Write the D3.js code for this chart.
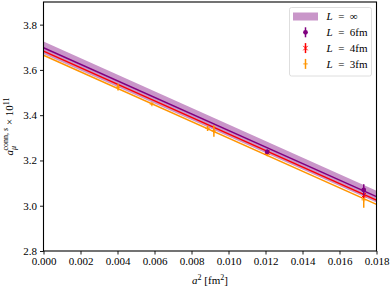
<!DOCTYPE html>
<html>
<head>
<meta charset="utf-8">
<script src="https://cdn.jsdelivr.net/npm/d3@7"></script>
<style>
  body { margin: 0; background: white; }
  text { font-family: "Liberation Serif", "DejaVu Serif", serif; }
</style>
</head>
<body>
<div id="chart"></div>
<script>
// constants
const W = 390, H = 288
const margin = {top: 2, right: 13.5, bottom: 37, left: 43.5}
const width = W - margin.left - margin.right
const height = H - margin.top - margin.bottom

// data
const xTicks = [0.000, 0.002, 0.004, 0.006, 0.008, 0.010, 0.012, 0.014, 0.016, 0.018]
const yTicks = [2.8, 3.0, 3.2, 3.4, 3.6, 3.8]

// fit lines (ends at a^2 = 0 and 0.018)
const fitX = [0, 0.018]
const fitInf = [3.698, 3.040]
const bandHi = [3.726, 3.066]
const bandLo = [3.670, 3.014]
const fit4 = [3.683, 3.025]
const fit3 = [3.665, 3.006]

// points
const pts6 = [
    {x: 0.01209, y: 3.238, e: 0.010},
    {x: 0.01731, y: 3.070, e: 0.025}
]
const pts4 = [
    {x: 0.01209, y: 3.236, e: 0.008},
    {x: 0.01731, y: 3.046, e: 0.012}
]
const pts3 = [
    {x: 0.00403, y: 3.524, e: 0.015},
    {x: 0.00586, y: 3.449, e: 0.005},
    {x: 0.00887, y: 3.342, e: 0.012},
    {x: 0.00921, y: 3.330, e: 0.025},
    {x: 0.01209, y: 3.228, e: 0.008},
    {x: 0.01731, y: 3.026, e: 0.035}
]

const cPurple = "#800080"
const cBand = "#c996c9"
const cRed = "#ff0000"
const cOrange = "#ff9500"

const svg = d3.select("#chart").append("svg")
    .attr("width", W).attr("height", H)
const g = svg.append("g").attr("transform", `translate(${margin.left}, ${margin.top})`)

const x = d3.scaleLinear().domain([0, 0.018]).range([0, width])
const y = d3.scaleLinear().domain([2.8, 3.9]).range([height, 0])

// band
const bandData = fitX.map((v, i) => ({x: v, lo: bandLo[i], hi: bandHi[i]}))
g.append("path")
    .datum(bandData)
    .attr("d", d3.area().x(d => x(d.x)).y0(d => y(d.lo)).y1(d => y(d.hi)))
    .attr("fill", cBand)

const line = d3.line().x(d => x(d.x)).y(d => y(d.y))
function fitLine(vals, color) {
    g.append("path")
        .datum(fitX.map((v, i) => ({x: v, y: vals[i]})))
        .attr("d", line)
        .attr("stroke", color)
        .attr("stroke-width", 1.5)
        .attr("fill", "none")
}
fitLine(fit3, cOrange)
fitLine(fit4, cRed)
fitLine(fitInf, cPurple)

// markers
function drawMarker(sel, kind, color, cx, cy) {
    if (kind == "o") {
        sel.append("circle").attr("cx", cx).attr("cy", cy).attr("r", 2.4).attr("fill", color)
    } else if (kind == "x") {
        const s = 2.2
        sel.append("path")
            .attr("d", `M${cx - s},${cy - s}L${cx + s},${cy + s}M${cx - s},${cy + s}L${cx + s},${cy - s}`)
            .attr("stroke", color).attr("stroke-width", 1)
    } else {
        const s = 2.2
        sel.append("path")
            .attr("d", `M${cx - s},${cy}L${cx + s},${cy}M${cx},${cy - s}L${cx},${cy + s}`)
            .attr("stroke", color).attr("stroke-width", 1)
    }
}
function errPoints(pts, kind, color) {
    const grp = g.append("g")
    pts.forEach(d => {
        grp.append("line")
            .attr("x1", x(d.x)).attr("x2", x(d.x))
            .attr("y1", y(d.y - d.e)).attr("y2", y(d.y + d.e))
            .attr("stroke", color).attr("stroke-width", 1.5)
        drawMarker(grp, kind, color, x(d.x), y(d.y))
    })
}
errPoints(pts3, "+", cOrange)
errPoints(pts4, "x", cRed)
errPoints(pts6, "o", cPurple)

// axes
const xAxis = g.append("g")
    .attr("transform", `translate(0, ${height})`)
    .call(d3.axisBottom(x).tickValues(xTicks).tickSize(3.5).tickPadding(3).tickFormat(d3.format(".3f")))
const yAxis = g.append("g")
    .call(d3.axisLeft(y).tickValues(yTicks).tickSize(3.5).tickPadding(3).tickFormat(d3.format(".1f")))
for (const ax of [xAxis, yAxis]) {
    ax.select(".domain").remove()
    ax.selectAll("line").attr("stroke", "black").attr("stroke-width", 0.9)
    ax.selectAll("text").attr("font-family", "Liberation Serif, serif").attr("font-size", 11).attr("fill", "black")
}

// frame
g.append("rect")
    .attr("width", width).attr("height", height)
    .attr("fill", "none").attr("stroke", "black").attr("stroke-width", 1.1)

// x label
const xl = svg.append("text")
    .attr("x", margin.left + width / 2).attr("y", 284)
    .attr("text-anchor", "middle").attr("font-size", 11)
xl.append("tspan").attr("font-style", "italic").text("a")
xl.append("tspan").attr("font-size", 8).attr("dy", -4.5).text("2")
xl.append("tspan").attr("dy", 4.5).text(" [fm")
xl.append("tspan").attr("font-size", 8).attr("dy", -4.5).text("2")
xl.append("tspan").attr("dy", 4.5).text("]")

// y label
const yl = svg.append("text")
    .attr("transform", `translate(13, ${margin.top + height / 2}) rotate(-90)`)
    .attr("text-anchor", "middle").attr("font-size", 11)
yl.append("tspan").attr("font-style", "italic").text("a")
yl.append("tspan").attr("font-style", "italic").attr("font-size", 8).attr("dy", 3).text("μ")
yl.append("tspan").attr("font-size", 8).attr("dx", -4.5).attr("dy", -8).text("conn, ")
yl.append("tspan").attr("font-size", 8).attr("font-style", "italic").text("s")
yl.append("tspan").attr("dy", 5).text(" × 10")
yl.append("tspan").attr("font-size", 8).attr("dy", -4.5).text("11")

// legend
const leg = svg.append("g")
leg.append("rect")
    .attr("x", 289.5).attr("y", 7.5).attr("width", 82).attr("height", 68.5).attr("rx", 2)
    .attr("fill", "white").attr("stroke", "#d6d6d6").attr("stroke-width", 0.8)
const legItems = [
    {kind: "band", color: cBand, val: "∞"},
    {kind: "o", color: cPurple, val: "6fm"},
    {kind: "x", color: cRed, val: "4fm"},
    {kind: "+", color: cOrange, val: "3fm"}
]
legItems.forEach((d, i) => {
    const cy = 16.5 + i * 15.8
    if (d.kind == "band") {
        leg.append("rect").attr("x", 293).attr("y", cy - 4).attr("width", 25).attr("height", 8).attr("fill", d.color)
    } else {
        leg.append("line").attr("x1", 305.5).attr("x2", 305.5).attr("y1", cy - 5).attr("y2", cy + 5)
            .attr("stroke", d.color).attr("stroke-width", 1.5)
        drawMarker(leg, d.kind, d.color, 305.5, cy)
    }
    const t = leg.append("text").attr("x", 326.5).attr("y", cy + 3.8).attr("font-size", 11)
    t.append("tspan").attr("font-style", "italic").text("L")
    t.append("tspan").text("\u2002=\u2002" + d.val)
})
</script>
</body>
</html>
